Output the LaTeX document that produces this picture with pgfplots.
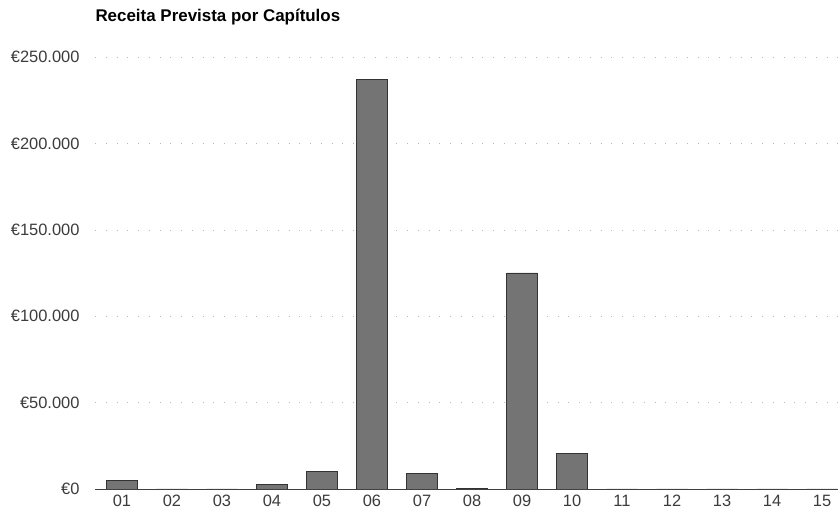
\documentclass[border=0pt]{standalone}
\usepackage{pgfplots}
\pgfplotsset{compat=1.18}
\usepackage{fontspec}
\setmainfont{Liberation Sans}

\definecolor{barfill}{HTML}{747474}
\definecolor{bardraw}{HTML}{333333}
\definecolor{ticktext}{HTML}{3C3C3C}

\begin{document}
\begin{tikzpicture}
    \begin{axis}[
        name=ax,
        at={(0,0)}, anchor=south west,
        scale only axis,
        width=743bp,
        height=432bp,
        xmin=0.46, xmax=15.32,
        ymin=0, ymax=250000,
        scaled y ticks=false,
        axis x line*=bottom,
        axis y line*=left,
        y axis line style={draw=none},
        x axis line style={draw=black!75, line width=1pt},
        major tick length=0pt,
        xtick={1,...,15},
        xticklabels={01,02,03,04,05,06,07,08,09,10,11,12,13,14,15},
        ytick={0,50000,100000,150000,200000,250000},
        yticklabels={€0,€50.000,€100.000,€150.000,€200.000,€250.000},
        ticklabel style={font=\fontsize{16.5}{19}\selectfont, text=ticktext},
        xticklabel style={yshift=-3bp},
        yticklabel style={xshift=-12bp},
        ymajorgrids,
        grid style={black!28, line width=0.5pt, dash pattern=on 0.8pt off 10pt},
        ybar, bar width=31bp,
        title={\textbf{Receita Prevista por Capítulos}},
        title style={at={(0,1)}, anchor=base west, xshift=-3bp, yshift=30bp,
                     font=\fontsize{17}{20}\selectfont},
    ]
    \addplot[fill=barfill, draw=bardraw, line width=0.8pt] coordinates {
        (1,5200) (2,0) (3,0) (4,2500) (5,10400) (6,237000) (7,9000)
        (8,500) (9,125000) (10,20800) (11,0) (12,0) (13,0) (14,0) (15,0)
    };
    \end{axis}
    \pgfresetboundingbox
    \path (-95bp,-29bp) rectangle (743bp,489bp);
\end{tikzpicture}
\end{document}
